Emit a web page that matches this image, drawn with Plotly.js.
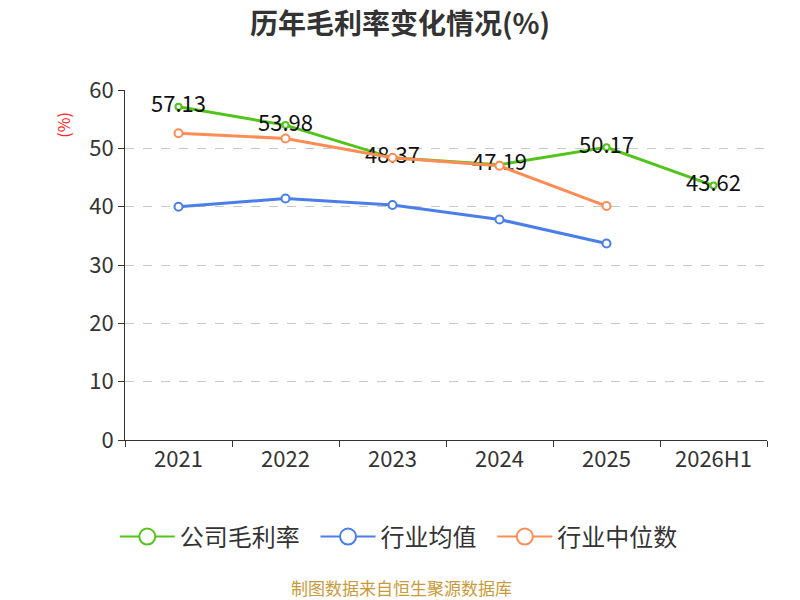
<!DOCTYPE html>
<html>
<head>
<meta charset="utf-8">
<script src="https://cdn.plot.ly/plotly-3.0.1.min.js"></script>
<style>html,body{margin:0;padding:0;background:#fff;}#chart{width:800px;height:600px;}</style>
</head>
<body>
<div id="chart"></div>
<script>
var categories = ['2021', '2022', '2023', '2024', '2025', '2026H1'];
var companyMargin = [57.13, 53.98, 48.37, 47.19, 50.17, 43.62];
var industryAvg = [40.0, 41.4, 40.3, 37.8, 33.7];
var industryMedian = [52.6, 51.7, 48.4, 47.0, 40.1];
var seriesNames = ['公司毛利率', '行业均值', '行业中位数'];
var seriesColors = ['#52c41a', '#4a7ee8', '#ff8c55'];
var yTicks = [0, 10, 20, 30, 40, 50, 60];

var FONT = '"Noto Sans CJK SC", "Noto Sans", sans-serif';
function mk(color, size) {
  return {symbol: 'circle', size: size, color: '#ffffff', line: {color: color, width: 2}};
}
var traces = [
  {
    x: categories, y: companyMargin, name: seriesNames[0], type: 'scatter',
    mode: 'lines+markers+text', showlegend: false,
    text: companyMargin.map(function(v){return v.toFixed(2);}),
    textposition: 'middle center',
    textfont: {size: 22, color: '#111', family: FONT},
    line: {color: seriesColors[0], width: 3}, marker: mk(seriesColors[0], 6),
    cliponaxis: false
  },
  {
    x: categories.slice(0, industryAvg.length), y: industryAvg, name: seriesNames[1], type: 'scatter',
    mode: 'lines+markers', showlegend: false,
    line: {color: seriesColors[1], width: 3}, marker: mk(seriesColors[1], 8)
  },
  {
    x: categories.slice(0, industryMedian.length), y: industryMedian, name: seriesNames[2], type: 'scatter',
    mode: 'lines+markers', showlegend: false,
    line: {color: seriesColors[2], width: 3}, marker: mk(seriesColors[2], 8)
  }
];
// legend entries (no data points)
seriesNames.forEach(function(n, i) {
  traces.push({
    x: [null], y: [null], name: n + '\u00a0\u00a0', type: 'scatter', mode: 'lines+markers',
    line: {color: seriesColors[i], width: 2}, marker: mk(seriesColors[i], 16),
    hoverinfo: 'skip'
  });
});

var layout = {
  width: 800, height: 600,
  margin: {l: 125, r: 33, t: 90, b: 160},
  paper_bgcolor: '#fff', plot_bgcolor: '#fff',
  font: {family: FONT, color: '#333'},
  title: {text: '<b>历年毛利率变化情况(%)</b>', x: 0.5, xanchor: 'center', y: 0.96, yanchor: 'middle',
          font: {size: 28, color: '#333', family: FONT}},
  showlegend: true,
  legend: {orientation: 'h', x: 0.435, xanchor: 'center', y: -0.277, yanchor: 'middle',
           font: {size: 24, color: '#333', family: FONT}, traceorder: 'normal',
           itemwidth: 55},
  xaxis: {
    type: 'category', categoryorder: 'array', categoryarray: categories,
    range: [-0.5, 5.5], showline: true, linecolor: '#333', linewidth: 1,
    ticks: 'outside', tickson: 'boundaries', ticklen: 6, tickcolor: '#333',
    tickfont: {size: 22, color: '#333'}, showgrid: false, zeroline: false
  },
  yaxis: {
    range: [0, 60], tickvals: yTicks, showline: true, linecolor: '#333', linewidth: 1,
    ticks: 'outside', ticklen: 6, tickcolor: '#333',
    tickfont: {size: 22, color: '#333'},
    showgrid: true, gridcolor: '#c8c8c8', griddash: 'dash', gridwidth: 1, zeroline: false
  },
  annotations: [
    {text: '(%)', xref: 'paper', yref: 'paper', x: -0.097, y: 0.9, textangle: -90,
     xanchor: 'center', yanchor: 'middle',
     showarrow: false, font: {size: 16, color: '#ff2020', family: FONT}},
    {text: '制图数据来自恒生聚源数据库', xref: 'paper', yref: 'paper', x: 0.43, y: -0.42,
     xanchor: 'center', yanchor: 'middle', showarrow: false,
     font: {size: 17, color: '#c99a3a', family: FONT}}
  ]
};
Plotly.newPlot('chart', traces, layout, {displayModeBar: false, responsive: false});
</script>
</body>
</html>
